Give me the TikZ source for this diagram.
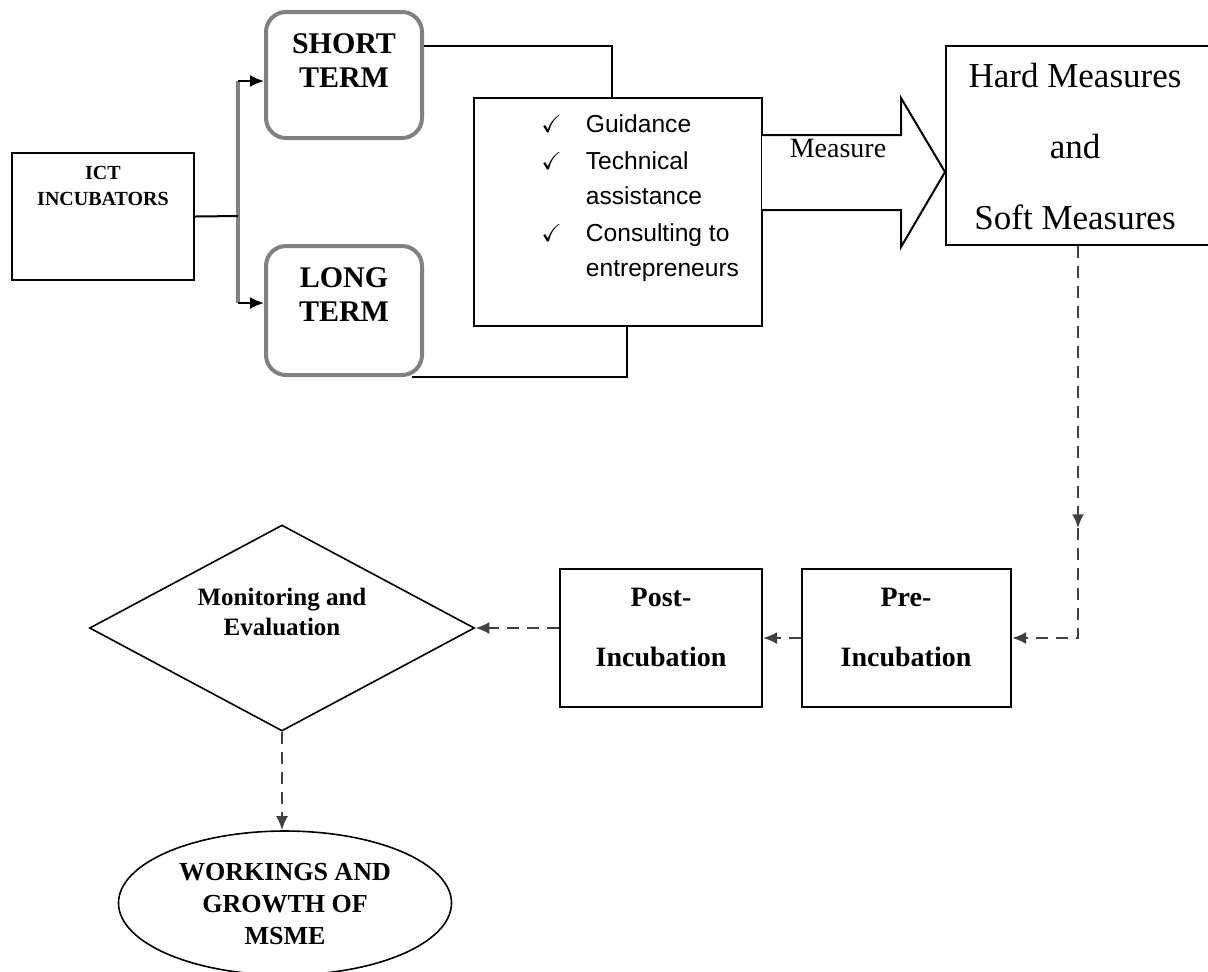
\documentclass[tikz,border=0pt]{standalone}
\usepackage{amssymb}
\usepackage{fontspec}
\setmainfont{Liberation Serif}
\newfontfamily\listfont{Liberation Sans}
\usetikzlibrary{arrows.meta,shapes.geometric}

\begin{document}
\begin{tikzpicture}[x=0.5pt,y=-0.5pt,>={Latex[length=7pt,width=6pt]},
        box/.style={draw,line width=1pt,inner sep=0pt},
        term box/.style={draw=gray,line width=2pt,rounded corners=10pt,inner sep=0pt,
            minimum width=78pt},
        link/.style={line width=1pt},
        trunk/.style={draw=gray,line width=2pt},
        flow/.style={draw=black!75,line width=1.2pt,dash pattern=on 6pt off 4pt},
        label text/.style={font=\bfseries\fontsize{15}{17}\selectfont,align=center},
        stage text/.style={font=\bfseries\fontsize{12.5}{15}\selectfont,align=center}]
        \useasboundingbox (0,0) rectangle (1208,971);
        \clip (0,0) rectangle (1208,971);

        % nodes
        \node[box, minimum width=91pt, minimum height=63.5pt] (ict) at (103,216.5) {};
        \node[font=\bfseries\fontsize{10}{13}\selectfont, align=center] (icttext) at (103,186) {ICT\\INCUBATORS};

        \node[term box, minimum height=63pt] (short) at (344,75) {};
        \node[label text] (shorttext) at (344,61) {SHORT\\TERM};
        \node[term box, minimum height=64.5pt] (long) at (344,310.5) {};
        \node[label text] (longtext) at (344,295) {LONG\\TERM};

        \node[box, minimum width=144pt, minimum height=114pt] (list) at (618,212) {};
        \node[anchor=north west, inner sep=0pt, font=\listfont\fontsize{12.3}{17.5}\selectfont] (items) at (541,108)
            {\begin{tabular}{@{}l@{\hspace{12pt}}l@{}}
             $\checkmark$ & Guidance\\[1pt]
             $\checkmark$ & Technical\\
                          & assistance\\[1pt]
             $\checkmark$ & Consulting to\\
                          & entrepreneurs
             \end{tabular}};

        % block arrow
        \draw[line width=1pt, fill=white] (762,135) -- (901,135) -- (901,98) -- (945,172)
            -- (901,247) -- (901,210) -- (762,210);
        \node[font=\fontsize{14}{16}\selectfont] (measure) at (838,148) {Measure};

        \node[box, minimum width=132pt, minimum height=99.5pt] (hard) at (1078,145.5) {};
        \node[font=\fontsize{17.5}{35.5}\selectfont, align=center] (hardtext) at (1075,147) {Hard Measures\\and\\Soft Measures};

        \node[box, minimum width=104.5pt, minimum height=69pt] (pre) at (906.5,638) {};
        \node[font=\bfseries\fontsize{14}{30}\selectfont, align=center] (pretext) at (906,627) {Pre-\\Incubation};
        \node[box, minimum width=101pt, minimum height=69pt] (post) at (661,638) {};
        \node[font=\bfseries\fontsize{14}{30}\selectfont, align=center] (posttext) at (661,627) {Post-\\Incubation};

        \node[diamond, draw, line width=0.8pt, inner sep=0pt, minimum width=192.5pt, minimum height=103pt] (mon) at (282,628) {};
        \node[stage text] (montext) at (282,612) {Monitoring and\\Evaluation};

        \node[ellipse, draw, line width=0.8pt, inner sep=0pt, minimum width=166.5pt, minimum height=72pt] (msme) at (285,903) {};
        \node[font=\bfseries\fontsize{13}{16}\selectfont, align=center] (msmetext) at (285,904) {WORKINGS AND\\GROWTH OF\\MSME};

        % arrows
        \coordinate (split) at (238,216);
        \coordinate (up) at (238,81);
        \coordinate (down) at (238,303);
        \draw[trunk] (up) -- (down);
        \draw[link] (ict.east) -- (split);
        \draw[link,->] (up) -- (short.west |- up);
        \draw[link,->] (down) -- (long.west |- down);

        \draw[link] ([yshift=14.5pt]short.east) -| ([xshift=-3pt]list.north);
        \draw[link] ([xshift=4.5pt]list.south) |- ([xshift=-6pt]long.south east);

        \coordinate (bend) at (hard.south |- pre.east);
        \path (hard.south) -- (bend) coordinate[pos=0.72] (mid);
        \draw[flow,->] (hard.south) -- (mid);
        \draw[flow,->] (mid) |- (pre.east);
        \draw[flow,->] (pre.west) -- (post.east);
        \draw[flow,->] (post.west |- mon.east) -- (mon.east);
        \draw[flow,->] (mon.south) -- (mon.south |- msme.north);

      \end{tikzpicture}
\end{document}
